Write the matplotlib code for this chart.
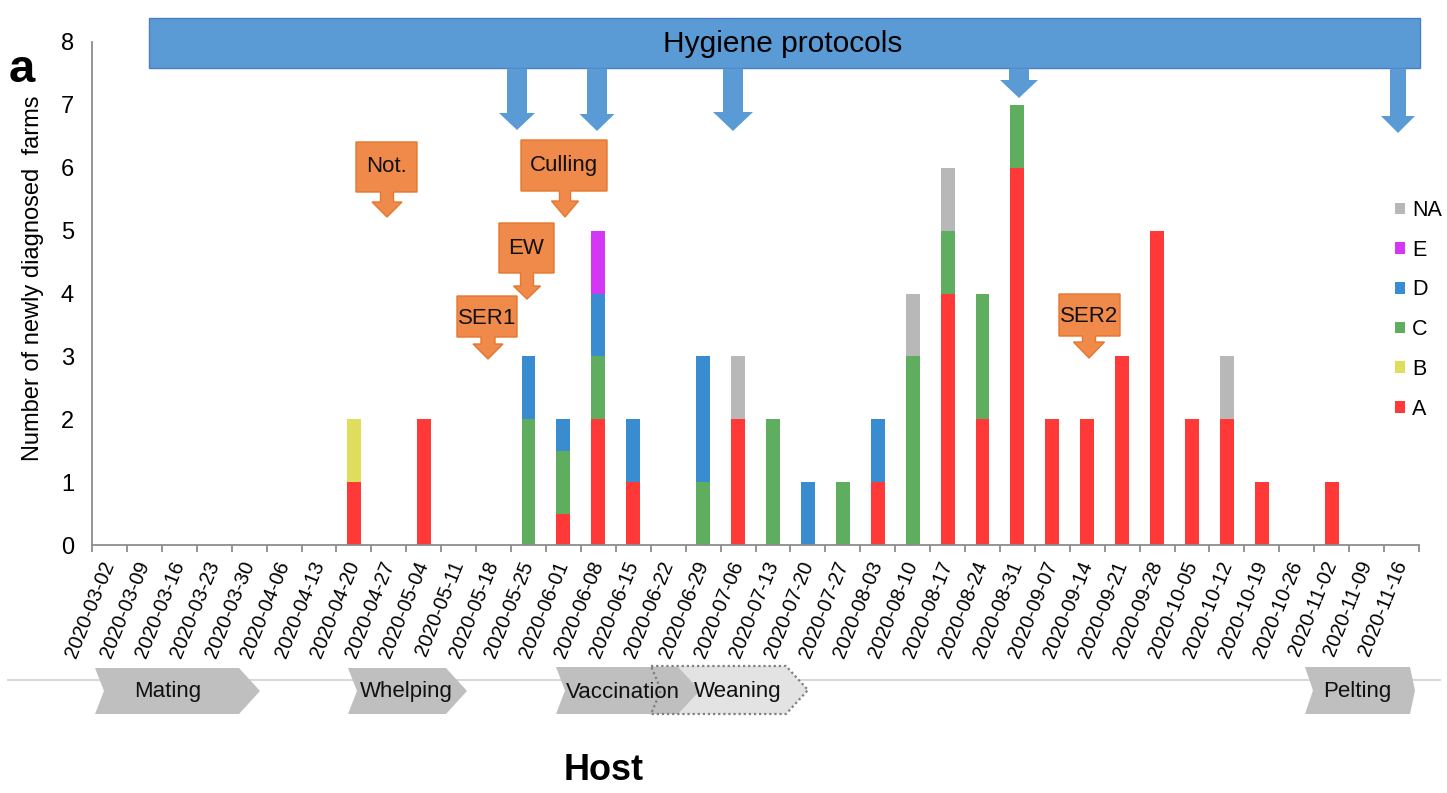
import matplotlib
matplotlib.use("Agg")
import matplotlib.pyplot as plt
from matplotlib.patches import Polygon, Rectangle, Patch
import numpy as np

plt.rcParams['font.family'] = ['Liberation Sans', 'DejaVu Sans']

# Weekly diagnosis dates (week start)
weeks = [
    "2020-03-02", "2020-03-09", "2020-03-16", "2020-03-23", "2020-03-30",
    "2020-04-06", "2020-04-13", "2020-04-20", "2020-04-27", "2020-05-04",
    "2020-05-11", "2020-05-18", "2020-05-25", "2020-06-01", "2020-06-08",
    "2020-06-15", "2020-06-22", "2020-06-29", "2020-07-06", "2020-07-13",
    "2020-07-20", "2020-07-27", "2020-08-03", "2020-08-10", "2020-08-17",
    "2020-08-24", "2020-08-31", "2020-09-07", "2020-09-14", "2020-09-21",
    "2020-09-28", "2020-10-05", "2020-10-12", "2020-10-19", "2020-10-26",
    "2020-11-02", "2020-11-09", "2020-11-16",
]

# Newly diagnosed farms per week, by clade
clade_A = [0, 0, 0, 0, 0, 0, 0, 1, 0, 2, 0, 0, 0, 0.5, 2, 1, 0, 0, 2, 0,
           0, 0, 1, 0, 4, 2, 6, 2, 2, 3, 5, 2, 2, 1, 0, 1, 0, 0]
clade_B = [0, 0, 0, 0, 0, 0, 0, 1, 0, 0, 0, 0, 0, 0, 0, 0, 0, 0, 0, 0,
           0, 0, 0, 0, 0, 0, 0, 0, 0, 0, 0, 0, 0, 0, 0, 0, 0, 0]
clade_C = [0, 0, 0, 0, 0, 0, 0, 0, 0, 0, 0, 0, 2, 1, 1, 0, 0, 1, 0, 2,
           0, 1, 0, 3, 1, 2, 1, 0, 0, 0, 0, 0, 0, 0, 0, 0, 0, 0]
clade_D = [0, 0, 0, 0, 0, 0, 0, 0, 0, 0, 0, 0, 1, 0.5, 1, 1, 0, 2, 0, 0,
           1, 0, 1, 0, 0, 0, 0, 0, 0, 0, 0, 0, 0, 0, 0, 0, 0, 0]
clade_E = [0, 0, 0, 0, 0, 0, 0, 0, 0, 0, 0, 0, 0, 0, 1, 0, 0, 0, 0, 0,
           0, 0, 0, 0, 0, 0, 0, 0, 0, 0, 0, 0, 0, 0, 0, 0, 0, 0]
clade_NA = [0, 0, 0, 0, 0, 0, 0, 0, 0, 0, 0, 0, 0, 0, 0, 0, 0, 0, 1, 0,
            0, 0, 0, 1, 1, 0, 0, 0, 0, 0, 0, 0, 1, 0, 0, 0, 0, 0]

series_names = ["A", "B", "C", "D", "E", "NA"]
series_values = [clade_A, clade_B, clade_C, clade_D, clade_E, clade_NA]
series_colors = ["#FF3838", "#DEDE5C", "#5FAE5F", "#3A8CD0", "#D336F5", "#B8B8B8"]

# Host production cycle phases
phases = ["Mating", "Whelping", "Vaccination", "Weaning", "Pelting"]
# Interventions
callouts = ["Not.", "Culling", "EW", "SER1", "SER2"]

W, H = 1447, 793
fig = plt.figure(figsize=(W / 100, H / 100), dpi=100)
fig.patch.set_facecolor("white")

x0_px, x1_px, y0_px, y1_px = 92, 1419, 545, 42
ax = fig.add_axes([x0_px / W, 1 - y0_px / H, (x1_px - x0_px) / W, (y0_px - y1_px) / H])

x = np.arange(len(weeks))
bottom = np.zeros(len(weeks))
handles = []
for name, vals, col in zip(series_names, series_values, series_colors):
    v = np.array(vals, dtype=float)
    ax.bar(x, v, width=0.4, bottom=bottom, color=col, edgecolor="none", zorder=2)
    bottom += v
    handles.append(Patch(facecolor=col, edgecolor="none", label=name))

ax.set_xlim(-0.5, len(weeks) - 0.5)
ax.set_ylim(0, 8)
ax.set_yticks(range(0, 9))
ax.tick_params(axis="y", length=0, pad=13, labelsize=17)
ax.set_xticks(x)
ax.set_xticklabels(weeks, rotation=68, ha="right", va="center",
                   rotation_mode="anchor", fontsize=14.5)
ax.tick_params(axis="x", which="major", length=0, pad=12)
ax.set_xticks(np.arange(-0.5, len(weeks)), minor=True)
ax.tick_params(axis="x", which="minor", length=5, width=1.3, color="#8C8C8C", direction="out")
for s in ["top", "right"]:
    ax.spines[s].set_visible(False)
for s in ["left", "bottom"]:
    ax.spines[s].set_color("#8C8C8C")
    ax.spines[s].set_linewidth(1.3)
ax.set_ylabel("Number of newly diagnosed  farms", fontsize=17)
ax.yaxis.set_label_coords(-0.036, 0.53)

leg = fig.legend(handles=handles[::-1], loc="upper left",
                 bbox_to_anchor=(1395 / W, 1 - 200 / H), frameon=False,
                 fontsize=15.5, handlelength=0.45, handleheight=0.45,
                 handletextpad=0.35, labelspacing=0.87, borderpad=0, borderaxespad=0)

# Overlay in pixel coordinates for banner, arrows, callouts and phases
ov = fig.add_axes([0, 0, 1, 1], zorder=5)
ov.set_xlim(0, W)
ov.set_ylim(H, 0)
ov.axis("off")
ov.patch.set_alpha(0)

blue = "#5B9BD5"
ov.add_patch(Rectangle((149, 18), 1420 - 149, 50, facecolor=blue, edgecolor="#4A7EC4", lw=1))
ov.text(783, 44, "Hygiene protocols", fontsize=21.5, ha="center", va="center", color="black")


def down_arrow(cx, sw, hw, hy, tip, top, **kw):
    pts = [(cx - sw, top), (cx + sw, top), (cx + sw, hy), (cx + hw, hy), (cx, tip),
           (cx - hw, hy), (cx - sw, hy)]
    ov.add_patch(Polygon(pts, closed=True, **kw))


for cx, sw, hw, hy, tip in [(517, 10, 18, 113, 130), (597, 10, 17.5, 114, 131),
                            (733, 10, 20, 112, 131), (1019, 10, 19, 80, 98),
                            (1398, 8, 17, 116, 133)]:
    down_arrow(cx, sw, hw, hy, tip, 68.5, facecolor=blue, edgecolor="none")

orange = "#EF8A4B"
orange_edge = "#E5772F"
callout_geom = [
    # box x0, x1, y0, y1, cx, shaft half-width, head half-width, head y, tip y, text y
    (356, 417, 142, 192, 387, 6.5, 15, 202, 217, 166),
    (521, 607, 140, 191, 565, 5.5, 13.5, 201, 217, 166),
    (499, 554, 223, 273, 527, 6.5, 13.5, 286, 299, 248),
    (457, 517, 296, 337, 488, 7, 15, 344, 359, 318),
    (1059, 1120, 294, 336, 1089, 6.5, 15.5, 342, 358, 317),
]
for label, (bx0, bx1, by0, by1, cx, sw, hw, hy, tip, ty) in zip(callouts, callout_geom):
    pts = [(bx0, by0), (bx1, by0), (bx1, by1), (cx + sw, by1), (cx + sw, hy), (cx + hw, hy),
           (cx, tip), (cx - hw, hy), (cx - sw, hy), (cx - sw, by1), (bx0, by1)]
    ov.add_patch(Polygon(pts, closed=True, facecolor=orange, edgecolor=orange_edge, lw=1))
    ov.text((bx0 + bx1) / 2, ty, label, fontsize=16, ha="center", va="center", color="#111111")

# Host phase timeline
ov.plot([8, 1440], [680, 680], color="#D9D9D9", lw=1.5, zorder=1)


def chevron(x0, x1, top, bot, nd, pd):
    mid = (top + bot) / 2
    return [(x0, top), (x1 - pd, top), (x1, mid), (x1 - pd, bot), (x0, bot), (x0 + nd, mid)]


gray = "#BFBFBF"
ov.add_patch(Polygon(chevron(95, 260, 668, 714, 9, 21), facecolor=gray, edgecolor="none", zorder=2))
ov.add_patch(Polygon(chevron(348, 467, 668, 714, 9, 21), facecolor=gray, edgecolor="none", zorder=2))
ov.add_patch(Polygon(chevron(651, 808, 666, 714, 10, 22), facecolor="#E3E3E3", edgecolor="none", zorder=2))
ov.add_patch(Polygon(chevron(556, 700, 667, 714, 9, 22), facecolor=gray, edgecolor="none", zorder=3))
ov.add_patch(Polygon(chevron(651, 808, 666, 714, 10, 22), facecolor="none", edgecolor="#7F7F7F",
                     lw=1.6, linestyle=(0, (1, 1.3)), zorder=4))
ov.add_patch(Polygon(chevron(1305, 1415, 667, 714, 8, 5), facecolor=gray, edgecolor="none", zorder=2))

for label, cx in zip(phases, [168, 406, 623, 738, 1357]):
    ov.text(cx, 692, label, fontsize=16, ha="center", va="center", color="#111111", zorder=6)

ov.text(604, 771, "Host", fontsize=26, fontweight="bold", ha="center", va="center")
ov.text(22, 70, "a", fontsize=34, fontweight="bold", ha="center", va="center")

fig.savefig("out.png", dpi=100)
